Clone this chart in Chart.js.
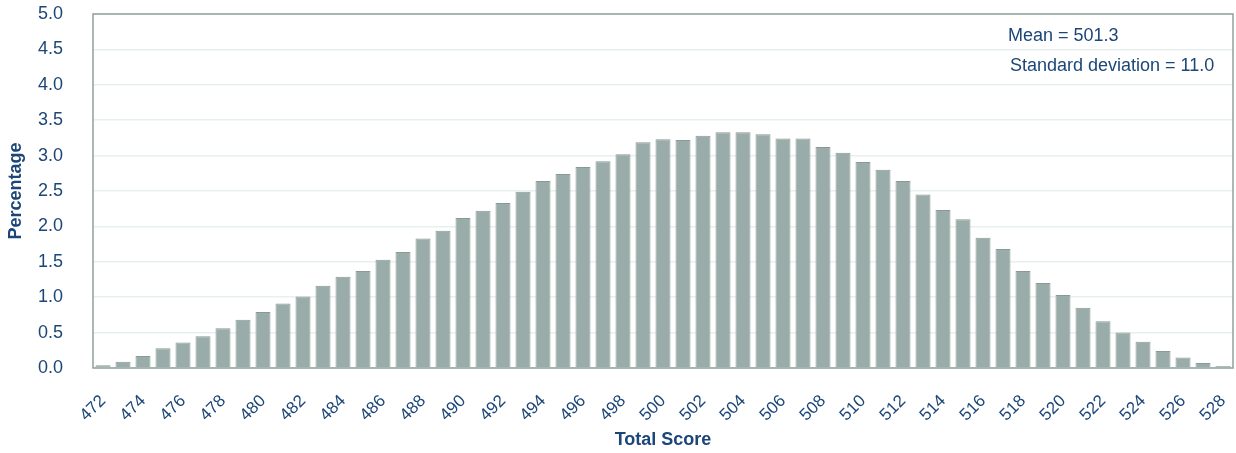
<!DOCTYPE html>
<html>
<head>
<meta charset="utf-8">
<script src="https://cdn.jsdelivr.net/npm/chart.js@4"></script>
<style>
  html, body { margin: 0; padding: 0; background: #fff; }
  #wrap { width: 1236px; height: 453px; position: relative; }
</style>
</head>
<body>
<div id="wrap"><canvas id="scoreChart"></canvas></div>
<script>
// Total score distribution
const scores = [];
for (let s = 472; s <= 528; s++) scores.push(String(s));

const percentages = [
    0.04, 0.09, 0.17, 0.28, 0.36, 0.45, 0.56, 0.68, 0.79, 0.91,
    1.01, 1.16, 1.29, 1.37, 1.53, 1.64, 1.83, 1.94, 2.12, 2.22,
    2.33, 2.49, 2.64, 2.74, 2.84, 2.92, 3.02, 3.19, 3.23, 3.22,
    3.28, 3.33, 3.33, 3.30, 3.24, 3.24, 3.12, 3.04, 2.91, 2.80,
    2.64, 2.45, 2.23, 2.10, 1.84, 1.68, 1.37, 1.20, 1.03, 0.85,
    0.66, 0.50, 0.37, 0.24, 0.15, 0.07, 0.03
];

const notes = ['Mean = 501.3', 'Standard deviation = 11.0'];

const textColor = '#1b4677';
const frameColor = '#8fa29f';

// frame round the plot + mean/sd note
const framePlugin = {
    id: 'frame',
    afterDatasetsDraw(chart) {
        const { ctx, chartArea: a } = chart;
        ctx.save();
        ctx.strokeStyle = frameColor;
        ctx.lineWidth = 1.5;
        ctx.strokeRect(a.left, a.top, a.right - a.left, a.bottom - a.top);
        ctx.fillStyle = textColor;
        ctx.font = '18px "Liberation Sans", Arial, sans-serif';
        ctx.textBaseline = 'middle';
        ctx.fillText(notes[0], 1008, 36);
        ctx.fillText(notes[1], 1010, 66);
        ctx.restore();
    }
};

const ctx = document.getElementById('scoreChart').getContext('2d');
new Chart(ctx, {
    type: 'bar',
    data: {
        labels: scores,
        datasets: [{
            label: 'Percentage',
            data: percentages,
            backgroundColor: '#9aaca9',
            borderColor: '#879a96',
            borderWidth: 1,
            categoryPercentage: 1.0,
            barPercentage: 0.75
        }]
    },
    options: {
        responsive: true,
        maintainAspectRatio: false,
        animation: false,
        layout: { padding: { top: 14, right: 3, left: 0, bottom: 0 } },
        plugins: {
            legend: { display: false },
            tooltip: { enabled: false }
        },
        scales: {
            x: {
                grid: { display: false, drawTicks: false },
                border: { display: false },
                ticks: {
                    autoSkip: false,
                    minRotation: 45,
                    maxRotation: 45,
                    padding: 23,
                    color: textColor,
                    font: { family: '"Liberation Sans", Arial, sans-serif', size: 17 },
                    callback: function(value, index) {
                        return index % 2 === 0 ? this.getLabelForValue(value) : '';
                    }
                },
                title: {
                    display: true,
                    text: 'Total Score',
                    color: textColor,
                    font: { family: '"Liberation Sans", Arial, sans-serif', size: 18, weight: 'bold' },
                    padding: { top: 0, bottom: 2 }
                },
                afterFit: function(scale) {
                    scale.height = 85;
                    scale.paddingLeft = 0;
                    scale.paddingRight = 0;
                }
            },
            y: {
                min: 0,
                max: 5,
                grid: { color: '#e8efef', lineWidth: 1.5, drawTicks: false },
                border: { display: false },
                ticks: {
                    stepSize: 0.5,
                    padding: 30,
                    color: textColor,
                    font: { family: '"Liberation Sans", Arial, sans-serif', size: 18 },
                    callback: function(value) { return value.toFixed(1); }
                },
                title: {
                    display: true,
                    text: 'Percentage',
                    color: textColor,
                    font: { family: '"Liberation Sans", Arial, sans-serif', size: 18, weight: 'bold' },
                    padding: { top: 5, bottom: 0 }
                },
                afterFit: function(scale) {
                    scale.width = 93;
                    scale.paddingTop = 0;
                    scale.paddingBottom = 0;
                }
            }
        }
    },
    plugins: [framePlugin]
});
</script>
</body>
</html>
